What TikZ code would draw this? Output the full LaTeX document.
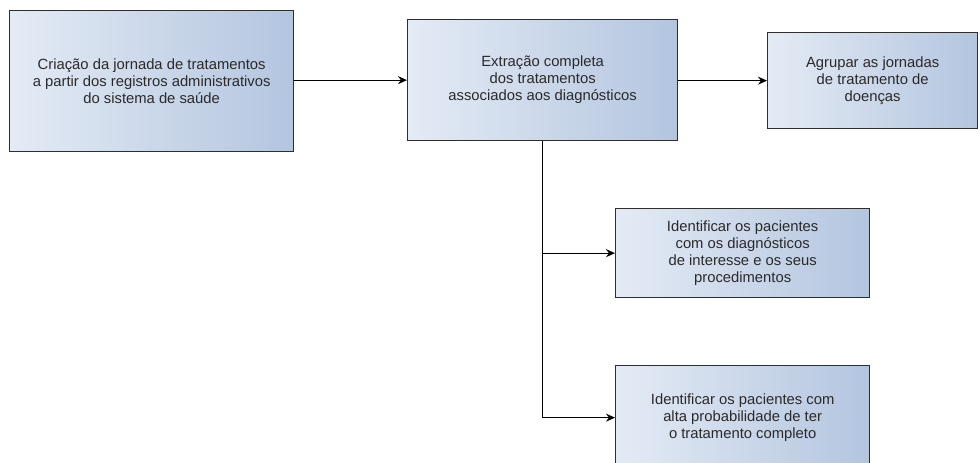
\documentclass[tikz,border=0pt]{standalone}
\usepackage{fontspec}
\setmainfont{Liberation Sans}
\usetikzlibrary{arrows.meta,positioning}
\definecolor{boxL}{HTML}{E4EBF5}
\definecolor{boxR}{HTML}{B3C5DF}
\definecolor{edge}{HTML}{2E2E2E}
\definecolor{txt}{HTML}{2A2A2A}
\tikzset{
  procbox/.style={draw=edge, line width=1.3pt, left color=boxL, right color=boxR,
    align=center, text=txt, inner sep=0pt,
    font=\fontsize{14.8}{17}\selectfont, anchor=north west},
  link/.style={draw=black, line width=1.1pt, -{Stealth[length=9pt,width=8pt]}}
}
\begin{document}
\begin{tikzpicture}[x=1pt,y=-1pt]
\useasboundingbox (0,0) rectangle (980,463);
\clip (0,0) rectangle (980,463);
\node[procbox, minimum width=284pt, minimum height=141pt] (a) at (9,10)
  {Criação da jornada de tratamentos\\a partir dos registros administrativos\\do sistema de saúde};
\node[procbox, minimum width=270pt, minimum height=121pt] (b) at (407,19)
  {Extração completa\\dos tratamentos\\associados aos diagnósticos};
\node[procbox, minimum width=210pt, minimum height=96pt] (c) at (767,32)
  {Agrupar as jornadas\\de tratamento de\\doenças};
\node[procbox, minimum width=254pt, minimum height=89pt] (d) at (615,208)
  {Identificar os pacientes\\com os diagnósticos\\de interesse e os seus\\procedimentos};
\node[procbox, minimum width=254pt, minimum height=104pt] (e) at (615,365)
  {Identificar os pacientes com\\alta probabilidade de ter\\o tratamento completo};
\coordinate (j1) at (b.south |- d.west);
\coordinate (j2) at (b.south |- e.west);
\draw[link] (a.east |- b.west) -- (b.west);
\draw[link] (b.east |- c.west) -- (c.west);
\draw[line width=1.1pt] (b.south) -- (j2);
\draw[link] (j1) -- (d.west);
\draw[link] (j2) -- (e.west);
\end{tikzpicture}
\end{document}
